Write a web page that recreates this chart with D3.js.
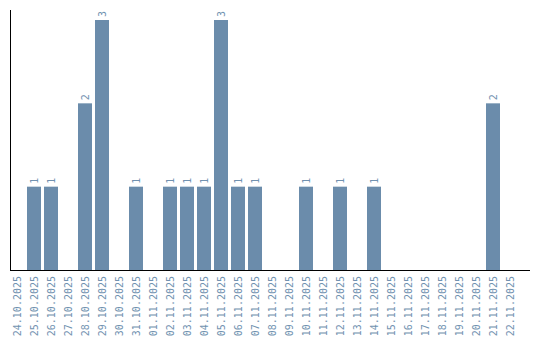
<!DOCTYPE html>
<html><head><meta charset="utf-8">
<script src="https://cdn.jsdelivr.net/npm/d3@7"></script>
<style>body{margin:0;background:#fff}</style>
</head><body>
<svg id="c" width="540" height="340"></svg>
<script>
const dates = ["24.10.2025","25.10.2025","26.10.2025","27.10.2025","28.10.2025","29.10.2025","30.10.2025","31.10.2025","01.11.2025","02.11.2025","03.11.2025","04.11.2025","05.11.2025","06.11.2025","07.11.2025","08.11.2025","09.11.2025","10.11.2025","11.11.2025","12.11.2025","13.11.2025","14.11.2025","15.11.2025","16.11.2025","17.11.2025","18.11.2025","19.11.2025","20.11.2025","21.11.2025","22.11.2025"];
const counts = [0,1,1,0,2,3,0,1,0,1,1,1,3,1,1,0,0,1,0,1,0,1,0,0,0,0,0,0,2,0];

const svg = d3.select("#c");
const color = "#6b8cab";
const textColor = "#7192b0";
const x = d3.scaleBand().domain(dates).range([10, 517]).paddingInner(3/17).paddingOuter(0);
const y = d3.scaleLinear().domain([0, 3]).range([270, 20]);
const data = dates.map((d,i)=>({d, v: counts[i]}));

svg.selectAll("rect.bar").data(data.filter(e=>e.v>0)).enter().append("rect")
  .attr("class","bar")
  .attr("x", e=>x(e.d)).attr("width", x.bandwidth())
  .attr("y", e=>y(e.v)).attr("height", e=>y(0)-y(e.v))
  .attr("fill", color);

svg.selectAll("text.val").data(data.filter(e=>e.v>0)).enter().append("text")
  .attr("class","val")
  .attr("transform", e=>`translate(${x(e.d)+x.bandwidth()/2},${y(e.v)-3}) rotate(-90)`)
  .attr("dy","0.35em")
  .attr("text-anchor","start")
  .attr("font-family","DejaVu Sans Mono").attr("font-size",10)
  .attr("fill", textColor)
  .text(e=>e.v);

// axes lines
svg.append("line").attr("x1",10.5).attr("x2",10.5).attr("y1",10).attr("y2",270).attr("stroke","#000");
svg.append("line").attr("x1",10).attr("x2",530).attr("y1",270.5).attr("y2",270.5).attr("stroke","#000");

const xAxis = d3.axisBottom(x).tickSize(0).tickPadding(0);
const g = svg.append("g").attr("transform","translate(0,270)").call(xAxis);
g.select(".domain").remove();
g.selectAll("text")
  .attr("font-family","DejaVu Sans Mono").attr("font-size",10)
  .attr("fill", textColor)
  .attr("text-anchor","end")
  .attr("transform","rotate(-90)")
  .attr("x",-6).attr("y",0).attr("dy","0.35em");
</script>
</body></html>
